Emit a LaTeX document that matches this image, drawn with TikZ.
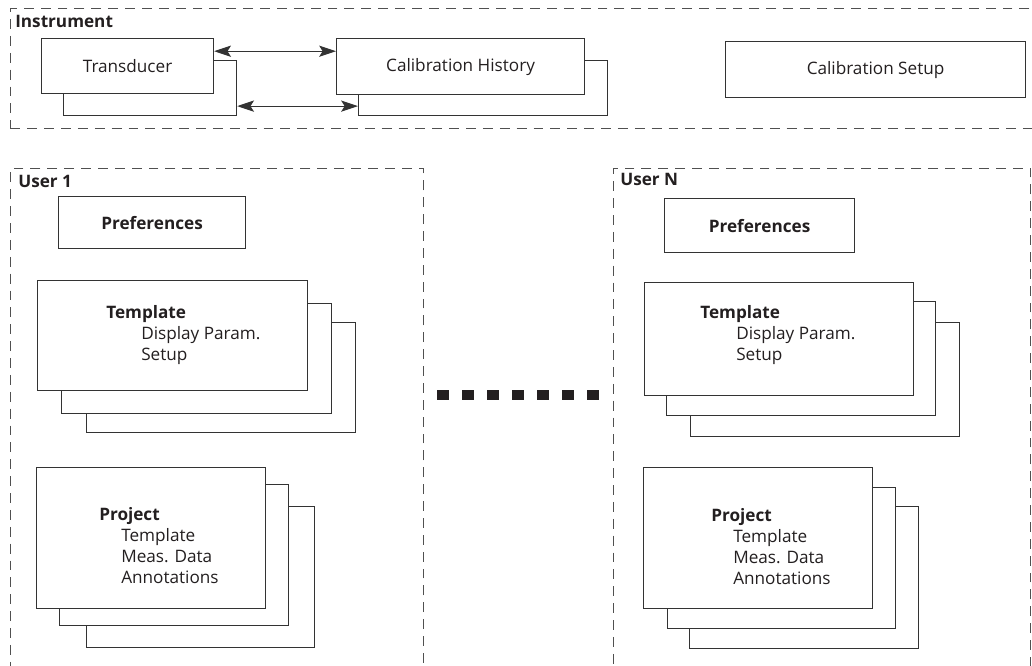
\documentclass[tikz,border=0pt]{standalone}
\usepackage{fontspec}
\setmainfont{Open Sans}
\usetikzlibrary{positioning, arrows.meta}

\definecolor{ink}{HTML}{231F20}
\definecolor{edge}{HTML}{333333}
\definecolor{frame}{HTML}{505050}

\begin{document}
\begin{tikzpicture}[
    x=0.025cm, y=-0.025cm,
    font=\fontsize{12.2}{15}\selectfont, text=ink,
    sz/.style 2 args={minimum width=#1*0.025cm, minimum height=#2*0.025cm},
    box/.style={
        draw=edge, fill=white, line width=0.8pt,
        anchor=north west, inner sep=0pt
    },
    grp/.style={
        draw=frame, line width=0.7pt, dash pattern=on 7pt off 5pt,
        anchor=north west, inner sep=0pt
    },
    ttl/.style={font=\fontsize{12.2}{15}\selectfont\bfseries, anchor=north west, inner sep=0pt},
    lines/.style={anchor=north west, inner sep=0pt, align=left},
    arr/.style={{Stealth[length=12pt,width=8pt,inset=2.5pt]}-{Stealth[length=12pt,width=8pt,inset=2.5pt]}, draw=edge, line width=0.8pt},
]
\clip (0,0) rectangle (1032,665);

% Instrument group (runs off the right edge)
\node[grp, sz={1040}{120}] (instr) at (10,8) {};
\node[ttl] (instrlbl) at (15,15) {Instrument};

\node[box, sz={173}{55}] (tdB) at (63,60) {};
\node[box, sz={172}{55}] (tdA) at (41,38) {Transducer};
\node[box, sz={249}{55}] (chB) at (358,60) {};
\node[box, sz={248}{56}] (chA) at (336,38) {Calibration History};
\node[box, sz={300}{56}] (cs) at (725,41) {Calibration Setup};

% links between transducer and calibration history
\draw[arr] ([yshift=-0.33cm]tdA.north east) -- ([yshift=-0.33cm]chA.north west);
\draw[arr] ([yshift=0.25cm]tdB.south east) -- ([yshift=0.25cm]chB.south west);

% User 1
\node[grp, sz={413}{520}] (user1) at (10,168) {};
\node[ttl] (user1lbl) at (18,175) {User 1};
\node[box, sz={187}{52}] (prefA) at (58,196) {\bfseries Preferences};

\node[box, sz={269}{110}] (tplA3) at (86,322) {};
\node[box, sz={270}{110}] (tplA2) at (61,303) {};
\node[box, sz={270}{110}] (tplA1) at (37,280) {};
\node[lines] (tplAtxt) at (106,305) {\textbf{Template}\\\hspace*{0.875cm}Display Param.\\\hspace*{0.875cm}Setup};

\node[box, sz={228}{141}] (prjA3) at (86,506) {};
\node[box, sz={229}{141}] (prjA2) at (59,484) {};
\node[box, sz={229}{141}] (prjA1) at (36,467) {};
\node[lines] (prjAtxt) at (99,507) {\textbf{Project}\\\hspace*{0.55cm}Template\\\hspace*{0.55cm}Meas. Data\\\hspace*{0.55cm}Annotations};

% User N
\node[grp, sz={417}{520}] (userN) at (613,168) {};
\node[ttl] (userNlbl) at (620,173) {User N};
\node[box, sz={190}{54}] (prefN) at (664,198) {\bfseries Preferences};

\node[box, sz={269}{114}] (tplN3) at (690,322) {};
\node[box, sz={269}{114}] (tplN2) at (666,301) {};
\node[box, sz={269}{113}] (tplN1) at (644,282) {};
\node[lines] (tplNtxt) at (700,305) {\textbf{Template}\\\hspace*{0.9cm}Display Param.\\\hspace*{0.9cm}Setup};

\node[box, sz={229}{142}] (prjN3) at (689,506) {};
\node[box, sz={228}{141}] (prjN2) at (667,487) {};
\node[box, sz={229}{141}] (prjN1) at (643,467) {};
\node[lines] (prjNtxt) at (711,508) {\textbf{Project}\\\hspace*{0.55cm}Template\\\hspace*{0.55cm}Meas. Data\\\hspace*{0.55cm}Annotations};

% ellipsis between the users
\foreach \i in {0,...,6}
    \fill[ink] (437+25*\i,390) rectangle ++(12,10);

\end{tikzpicture}
\end{document}
